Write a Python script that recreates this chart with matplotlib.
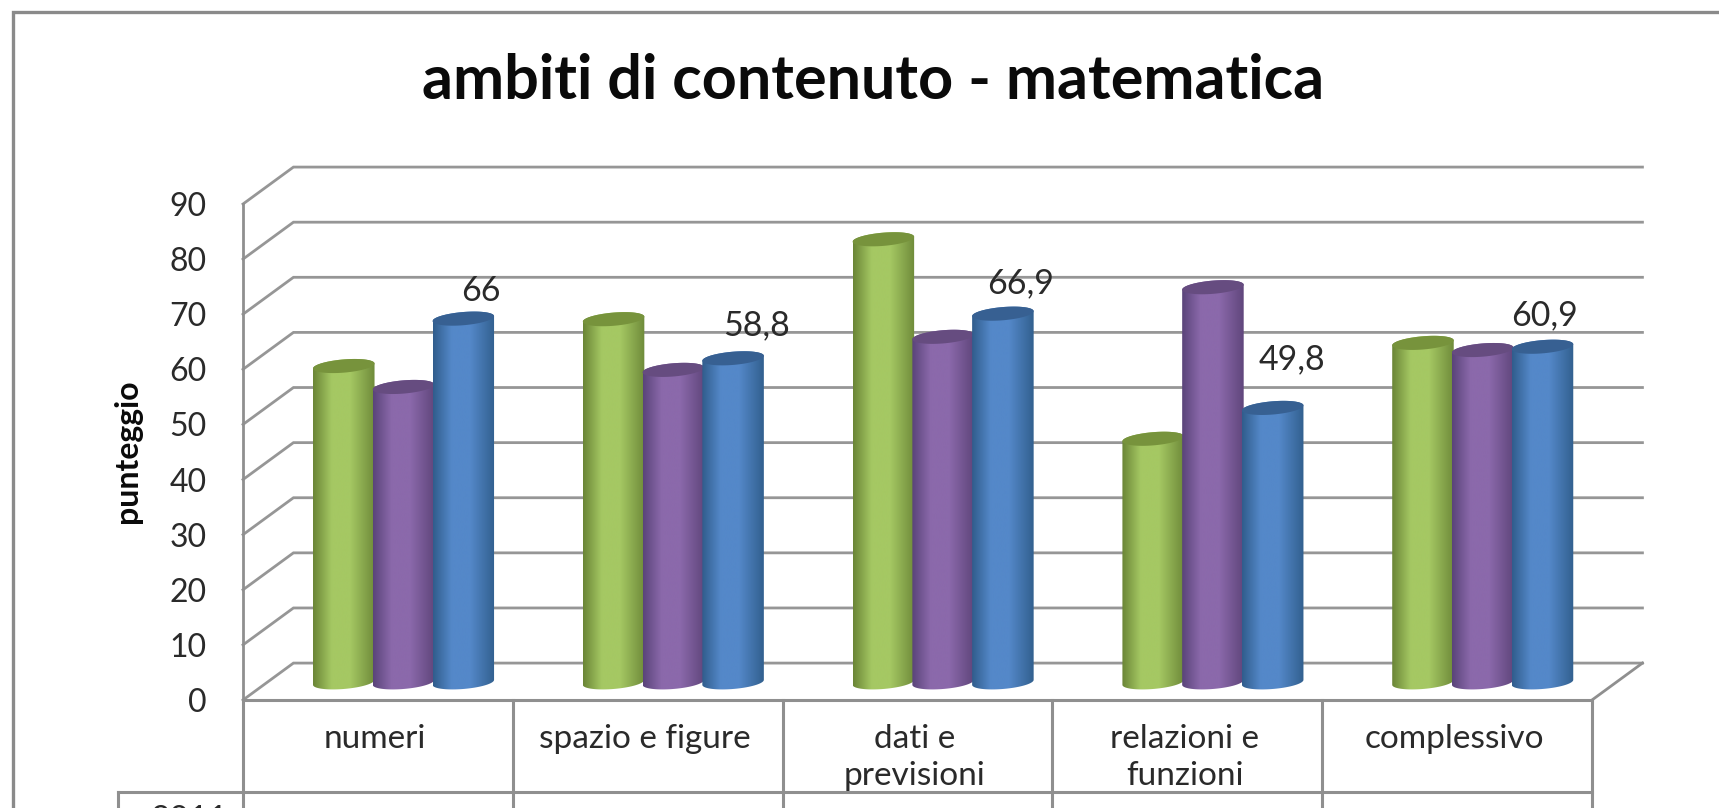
import matplotlib
matplotlib.use("Agg")
import matplotlib.pyplot as plt
import numpy as np
from matplotlib.colors import LinearSegmentedColormap
from matplotlib.lines import Line2D
from matplotlib.patches import PathPatch, Polygon
from matplotlib.path import Path

categories = ["numeri", "spazio e figure", "dati e\nprevisioni", "relazioni e\nfunzioni", "complessivo"]
green_values = [57.4, 65.9, 80.4, 44.2, 61.6]
purple_values = [53.6, 56.7, 62.7, 71.7, 60.3]
blue_values = [66, 58.8, 66.9, 49.8, 60.9]
y_ticks = [0, 10, 20, 30, 40, 50, 60, 70, 80, 90]
title = "ambiti di contenuto - matematica"
y_label = "punteggio"
row_label = "2011"

plt.rcParams['font.family'] = ['Lato', 'DejaVu Sans']

W, H = 1719, 808
LINE = "#8f8f8f"
TEXT = "#2a2a2a"

# depth of the 3d box, in data units
DX = 0.187
DY = 6.7
# the cylinders stand halfway into the box
BASE_Y = 3.2
BAR_W = 0.228
PITCH = 0.2215
GROUP_SHIFT = 0.095
ELL_H = 1.2
ELL_TILT = 0.45

# edge, centre, edge of the shading, then the top cap
styles = [
    ("#6a8536", "#a5c863", "#6f8b3a", "#77933c"),
    ("#5a447a", "#8b69ab", "#60467c", "#664c80"),
    ("#305d8c", "#5488c9", "#32608f", "#376092"),
]


def draw_cylinder(ax, cx, value, style):
    left = cx - BAR_W / 2
    right = cx + BAR_W / 2
    top = value + BASE_Y
    t = np.linspace(0, np.pi, 40)
    # lower half of the base ellipse, then the upper half of the top one
    low_x = cx - BAR_W / 2 * np.cos(t)
    low_y = BASE_Y - ELL_H * np.sin(t) + ELL_TILT * (low_x - cx) / (BAR_W / 2)
    up_x = cx + BAR_W / 2 * np.cos(t)
    up_y = top + ELL_H * np.sin(t) + ELL_TILT * (up_x - cx) / (BAR_W / 2)
    verts = np.vstack([np.column_stack([low_x, low_y]), np.column_stack([up_x, up_y])])
    shape = PathPatch(Path(np.vstack([verts, verts[0]]), closed=True), transform=ax.transData,
                      facecolor="none", edgecolor="none")
    ax.add_patch(shape)
    cmap = LinearSegmentedColormap.from_list(
        "c", [(0, style[0]), (0.3, style[1]), (0.6, style[1]), (1, style[2])])
    img = ax.imshow(np.linspace(0, 1, 128).reshape(1, -1), cmap=cmap, aspect="auto",
                    extent=[left, right, -3, top + 3], zorder=3, interpolation="bilinear")
    img.set_clip_path(shape)
    # cap
    a = np.linspace(0, 2 * np.pi, 80)
    cap_x = cx + BAR_W / 2 * np.cos(a)
    cap_y = top + ELL_H * np.sin(a) + ELL_TILT * np.cos(a)
    ax.add_patch(Polygon(np.column_stack([cap_x, cap_y]), closed=True, facecolor=style[3],
                         edgecolor="none", zorder=3))


def main():
    fig = plt.figure(figsize=(W / 100, H / 100), dpi=100)
    ax = fig.add_axes([243 / W, (H - 700) / H, 1349 / W, 496 / H])
    ax.patch.set_visible(False)
    n = len(categories)

    # back wall and side wall
    for v in y_ticks:
        ax.plot([0, DX, n + DX], [v, v + DY, v + DY], color="#969696", lw=2.0, clip_on=False, zorder=1,
                solid_joinstyle="miter")
    ax.plot([n, n + DX], [0, DY], color=LINE, lw=2.0, clip_on=False, zorder=1)

    # cylinders
    series = [green_values, purple_values, blue_values]
    for i in range(n):
        center = i + 0.5 + GROUP_SHIFT
        for j, values in enumerate(series):
            draw_cylinder(ax, center + (j - 1) * PITCH, values[i], styles[j])

    ax.set_xlim(0, n)
    ax.set_ylim(0, 90)

    # value labels of the third series
    offsets = [(13, 20), (17, 24), (13, 22), (14, 35), (1.5, 23)]
    for i, v in enumerate(blue_values):
        x = i + 0.5 + GROUP_SHIFT + PITCH
        ax.annotate(f"{v:g}".replace(".", ","), (x, v + BASE_Y), xytext=offsets[i],
                    textcoords="offset points", ha="center", va="center", fontsize=24.5, color=TEXT,
                    zorder=5)

    # axes
    for s in ["top", "right", "bottom"]:
        ax.spines[s].set_visible(False)
    ax.spines["left"].set_color(LINE)
    ax.spines["left"].set_linewidth(2)
    ax.set_yticks(y_ticks)
    ax.set_xticks([])
    ax.tick_params(axis="y", length=0, pad=26, labelsize=23, labelcolor=TEXT)

    # data table below the plot
    table_bottom = -20
    row_line = -16.7
    for i in range(n + 1):
        ax.plot([i, i], [table_bottom, 0], color=LINE, lw=2.2, clip_on=False, zorder=2)
    ax.plot([0, n], [0, 0], color=LINE, lw=2.2, clip_on=False, zorder=2)
    ax.plot([-0.463, n], [row_line, row_line], color=LINE, lw=2.2, clip_on=False, zorder=2)
    ax.plot([-0.463, -0.463], [table_bottom, row_line], color=LINE, lw=2.2, clip_on=False, zorder=2)
    for i, name in enumerate(categories):
        ax.text(i + 0.49, -4.3, name, ha="center", va="top", fontsize=24, color=TEXT, linespacing=1.3,
                clip_on=False)
    ax.text(-0.2, -19.0, row_label, ha="center", va="top", fontsize=24, color=TEXT)

    # outer frame, the crop cuts off the right and bottom sides
    fig.add_artist(Line2D([13 / W, 13 / W, 1], [0, 1 - 12 / H, 1 - 12 / H], color="#8a8a8a", lw=2.4,
                          solid_joinstyle="miter"))

    fig.text(873 / W, 1 - 81 / H, title, ha="center", va="center", fontsize=44, fontweight="bold",
             color="#0a0a0a")
    fig.text(127 / W, 1 - 451 / H, y_label, ha="center", va="center", rotation=90, fontsize=23,
             fontweight="bold", color="#0a0a0a")

    fig.savefig("out.png", dpi=100)


if __name__ == '__main__':
    main()
